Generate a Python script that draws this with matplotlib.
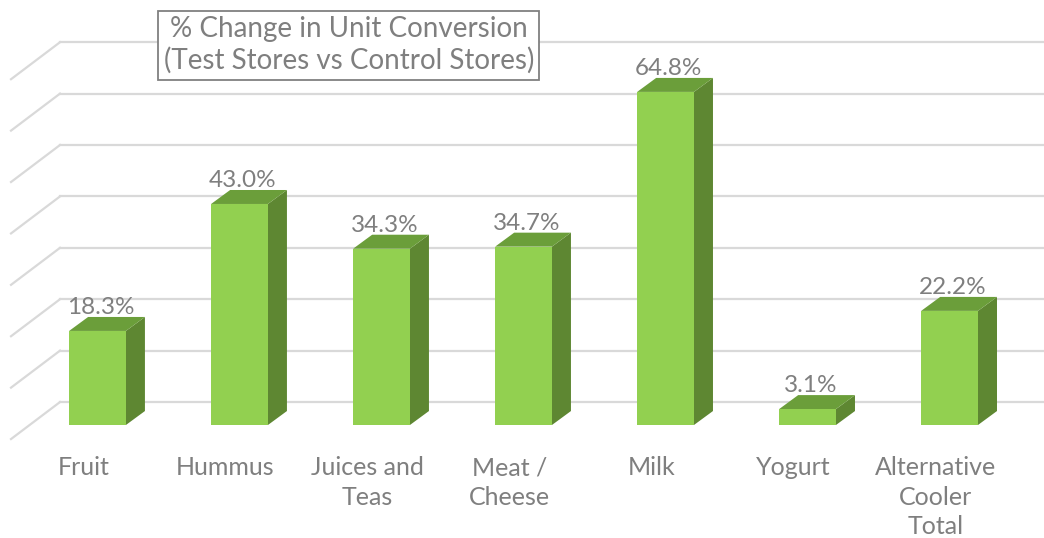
import matplotlib.pyplot as plt
from matplotlib.patches import Rectangle, Polygon

# data
categories = ["Fruit", "Hummus", "Juices and\nTeas", "Meat /\nCheese", "Milk", "Yogurt",
              "Alternative\nCooler\nTotal"]
values = [18.3, 43.0, 34.3, 34.7, 64.8, 3.1, 22.2]
grid_ticks = [0, 10, 20, 30, 40, 50, 60, 70]
title = "% Change in Unit Conversion\n(Test Stores vs Control Stores)"

# colors
front_c = "#92d050"
top_c = "#6b9e3a"
side_c = "#5e8732"
grid_c = "#d9d9d9"
text_c = "#7f7f7f"

plt.rcParams['font.family'] = ['Lato', 'DejaVu Sans']

fig = plt.figure(figsize=(10.44, 5.38), dpi=100)
ax = fig.add_axes([0, 0, 1, 1])
ax.set_xlim(-0.6866, 6.665)
ax.set_ylim(-21.98, 82.68)
ax.axis("off")

# oblique depth offsets (data units)
wall_dx, wall_dy = 0.215, 4.47      # bar front plane -> back wall
bar_dx, bar_dy = 0.134, 2.72        # bar depth
side_dx, side_dy = -0.345, -7.2     # back wall -> front of side wall
width = 0.40
wall_x0 = -0.264

# back wall gridlines + side wall diagonals
for g in grid_ticks:
    y = g + wall_dy
    ax.plot([wall_x0, 6.7], [y, y], color=grid_c, lw=1.6, zorder=1)
    ax.plot([wall_x0, wall_x0 + side_dx], [y, y + side_dy], color=grid_c, lw=1.6, zorder=1)

# 3d-ish bars
for i, v in enumerate(values):
    x0 = i - width / 2
    x1 = i + width / 2
    ax.add_patch(Polygon([(x1, 0), (x1 + bar_dx, bar_dy), (x1 + bar_dx, v + bar_dy), (x1, v)],
                         closed=True, facecolor=side_c, edgecolor="none", zorder=3))
    ax.add_patch(Polygon([(x0, v), (x1, v), (x1 + bar_dx, v + bar_dy), (x0 + bar_dx, v + bar_dy)],
                         closed=True, facecolor=top_c, edgecolor="none", zorder=3))
    ax.add_patch(Rectangle((x0, 0), width, v, facecolor=front_c, edgecolor="none", zorder=4))
    ax.annotate(f"{v:.1f}%", (i + 0.02, v + bar_dy), xytext=(0, -1), textcoords="offset points",
                ha="center", va="bottom", fontsize=17.5, color=text_c, zorder=5)
    ax.annotate(categories[i], (i - 0.1, -4.5), xytext=(0, -6), textcoords="offset points",
                ha="center", va="top", fontsize=18, color=text_c, linespacing=1.33)

# title box
ax.text(0.334, 0.916, title, transform=ax.transAxes, ha="center", va="center",
        fontsize=20, color=text_c, linespacing=1.22, zorder=6,
        bbox=dict(boxstyle="square,pad=0.2", facecolor="white", edgecolor="#808080", lw=1.3))

fig.savefig("out.png", dpi=100)
